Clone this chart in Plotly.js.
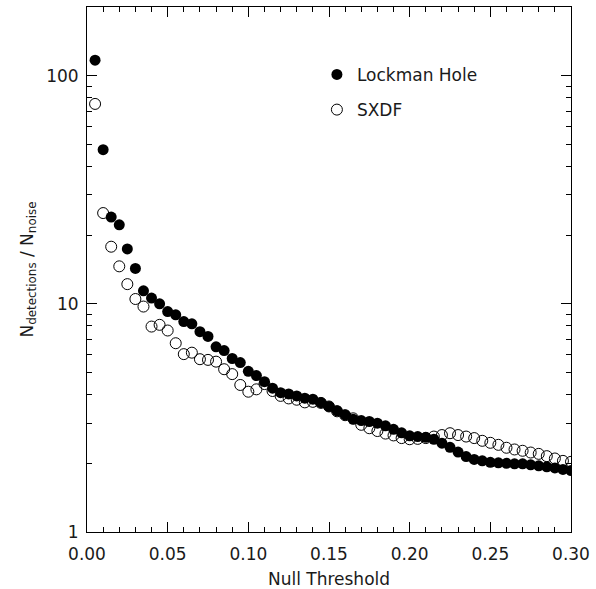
<!DOCTYPE html>
<html>
<head>
<meta charset="utf-8">
<script src="https://cdn.plot.ly/plotly-3.0.1.min.js"></script>
<style>html,body{margin:0;padding:0;background:#fff;}#plot{width:596px;height:589px;}</style>
</head>
<body>
<div id="plot"></div>
<script>
const thresholds = [0.005,0.010,0.015,0.020,0.025,0.030,0.035,0.040,0.045,0.050,
  0.055,0.060,0.065,0.070,0.075,0.080,0.085,0.090,0.095,0.100,
  0.105,0.110,0.115,0.120,0.125,0.130,0.135,0.140,0.145,0.150,
  0.155,0.160,0.165,0.170,0.175,0.180,0.185,0.190,0.195,0.200,
  0.205,0.210,0.215,0.220,0.225,0.230,0.235,0.240,0.245,0.250,
  0.255,0.260,0.265,0.270,0.275,0.280,0.285,0.290,0.295,0.300];

const lockmanHole = [117,47.4,24.0,22.2,17.4,14.3,11.4,10.6,10.0,9.25,
  8.95,8.36,8.17,7.55,7.20,6.48,6.24,5.76,5.53,5.06,
  4.85,4.56,4.27,4.08,4.03,3.95,3.86,3.82,3.69,3.55,
  3.40,3.26,3.12,3.08,3.05,3.00,2.92,2.82,2.72,2.64,
  2.62,2.60,2.55,2.45,2.35,2.24,2.14,2.08,2.05,2.02,
  2.01,2.00,1.99,1.99,1.97,1.95,1.93,1.91,1.88,1.86];

const sxdf = [75.2,25.0,17.8,14.6,12.2,10.5,9.73,7.95,8.09,7.64,
  6.72,6.02,6.11,5.72,5.68,5.58,5.17,4.92,4.41,4.12,
  4.22,4.45,4.15,3.95,3.85,3.80,3.70,3.72,3.68,3.55,
  3.38,3.25,3.15,2.95,2.85,2.77,2.70,2.65,2.58,2.55,
  2.56,2.58,2.62,2.66,2.71,2.66,2.62,2.58,2.51,2.46,
  2.41,2.34,2.30,2.27,2.23,2.20,2.15,2.10,2.05,2.03];

const xTickVals = [0, 0.05, 0.10, 0.15, 0.20, 0.25, 0.30];
const xTickText = ["0.00","0.05","0.10","0.15","0.20","0.25","0.30"];
const yTickVals = [1, 10, 100];
const yTickText = ["1", "10", "100"];
const yMinorVals = [2,3,4,5,6,7,8,9,20,30,40,50,60,70,80,90,200];
const legendNames = ["Lockman Hole", "SXDF"];

const fontFamily = "DejaVu Sans, Liberation Sans, sans-serif";
const textColor = '#1a1a1a';

const traces = [
  {
    x: thresholds, y: sxdf, type: 'scatter', mode: 'markers', name: legendNames[1],
    marker: {symbol: 'circle-open', size: 11, color: '#000', line: {width: 1, color: '#000'}},
    legend: 'legend2'
  },
  {
    x: thresholds, y: lockmanHole, type: 'scatter', mode: 'markers', name: legendNames[0],
    marker: {symbol: 'circle', size: 11, color: '#000'},
    legend: 'legend'
  }
];

const legendCommon = {
  xanchor: 'left', yanchor: 'top',
  font: {family: fontFamily, size: 17, color: textColor},
  bgcolor: 'rgba(0,0,0,0)', itemwidth: 30
};

const layout = {
  width: 596, height: 589,
  margin: {l: 87, r: 25, t: 7, b: 57},
  paper_bgcolor: '#fff', plot_bgcolor: '#fff',
  font: {family: fontFamily, size: 17, color: textColor},
  showlegend: true,
  legend: Object.assign({x: 0.475, y: 0.905}, legendCommon),
  legend2: Object.assign({x: 0.475, y: 0.838}, legendCommon),
  xaxis: {
    range: [0, 0.30], showgrid: false, zeroline: false,
    showline: true, linecolor: '#000', linewidth: 1, mirror: 'ticks',
    ticks: 'inside', ticklen: 10, tickcolor: '#000', tickwidth: 1,
    tickmode: 'array', tickvals: xTickVals, ticktext: xTickText,
    ticklabelstandoff: 7,
    minor: {ticks: 'inside', ticklen: 5, dtick: 0.01, tick0: 0, tickcolor: '#000', showgrid: false},
    tickfont: {family: fontFamily, size: 17, color: textColor},
    title: {text: 'Null Threshold', font: {family: fontFamily, size: 17, color: textColor}, standoff: 10}
  },
  yaxis: {
    type: 'log', range: [0, Math.log10(200)], showgrid: false, zeroline: false,
    showline: true, linecolor: '#000', linewidth: 1, mirror: 'ticks',
    ticks: 'inside', ticklen: 10, tickcolor: '#000', tickwidth: 1,
    tickmode: 'array', tickvals: yTickVals, ticktext: yTickText,
    ticklabelstandoff: 4,
    minor: {ticks: 'inside', ticklen: 5, tickmode: 'array', tickvals: yMinorVals, tickcolor: '#000', showgrid: false},
    tickfont: {family: fontFamily, size: 17, color: textColor},
    title: {text: 'N<sub>detections</sub> / N<sub>noise</sub>', font: {family: fontFamily, size: 17, color: textColor}, standoff: 8}
  }
};

Plotly.newPlot('plot', traces, layout, {displayModeBar: false, staticPlot: true});
</script>
</body>
</html>
